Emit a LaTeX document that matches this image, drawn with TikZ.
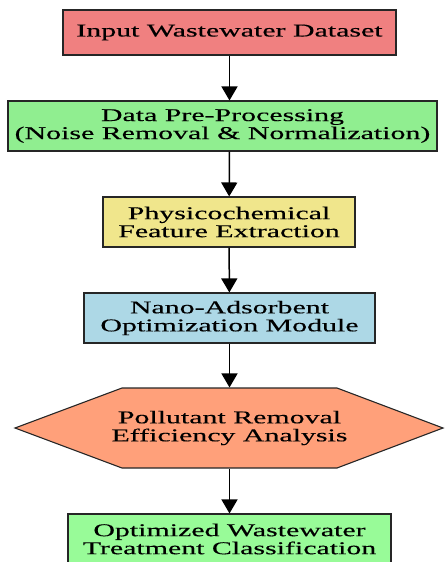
\documentclass[tikz,border=0pt]{standalone}
\usepackage{fontspec}
\setmainfont{Liberation Serif}[FakeStretch=1.66,FakeBold=0.3]
\usetikzlibrary{arrows.meta}
\definecolor{cIn}{HTML}{F08080}
\definecolor{cPre}{HTML}{90EE90}
\definecolor{cFeat}{HTML}{F0E68C}
\definecolor{cNano}{HTML}{ADD8E6}
\definecolor{cHex}{HTML}{FFA07A}
\definecolor{cOut}{HTML}{98FB98}
\tikzset{
  x=1pt,y=1pt,
  box/.style={draw=black!85,line width=1.1pt,rectangle,inner sep=0pt,align=center,
    font=\fontsize{18}{18}\selectfont,text=black},
  flow/.style={line width=1.5pt,-{Triangle[length=14pt,width=16pt]}}
}
\begin{document}
\begin{tikzpicture}
\useasboundingbox (0,0) rectangle (445,-562);
\node[box,fill=cIn,minimum width=333pt,minimum height=45pt] (in) at (229.5,-32.5) {Input Wastewater Dataset};
\node[box,fill=cPre,minimum width=429pt,minimum height=50pt] (pre) at (222.5,-126) {Data Pre-Processing\\(Noise Removal \& Normalization)};
\node[box,fill=cFeat,minimum width=252pt,minimum height=50pt] (feat) at (229,-222) {Physicochemical\\Feature Extraction};
\node[box,fill=cNano,minimum width=291pt,minimum height=50pt] (nano) at (229.5,-318) {Nano-Adsorbent\\Optimization Module};
\draw[draw=black!85,line width=1.1pt,fill=cHex] (15,-428) -- (122,-388) -- (337,-388) -- (443,-428) -- (337,-468) -- (122,-468) -- cycle;
\node[box,draw=none,minimum width=200pt,minimum height=80pt] (hex) at (229.5,-428) {Pollutant Removal\\Efficiency Analysis};
\node[box,fill=cOut,minimum width=323pt,minimum height=50pt] (out) at (229.5,-539) {Optimized Wastewater\\Treatment Classification};
\draw[flow] (in) -- (pre.north -| in);
\draw[flow] (pre.south -| in) -- (feat);
\draw[flow] (feat) -- (nano);
\draw[flow] (nano) -- (hex);
\draw[flow] (hex) -- (out);
\end{tikzpicture}
\end{document}
